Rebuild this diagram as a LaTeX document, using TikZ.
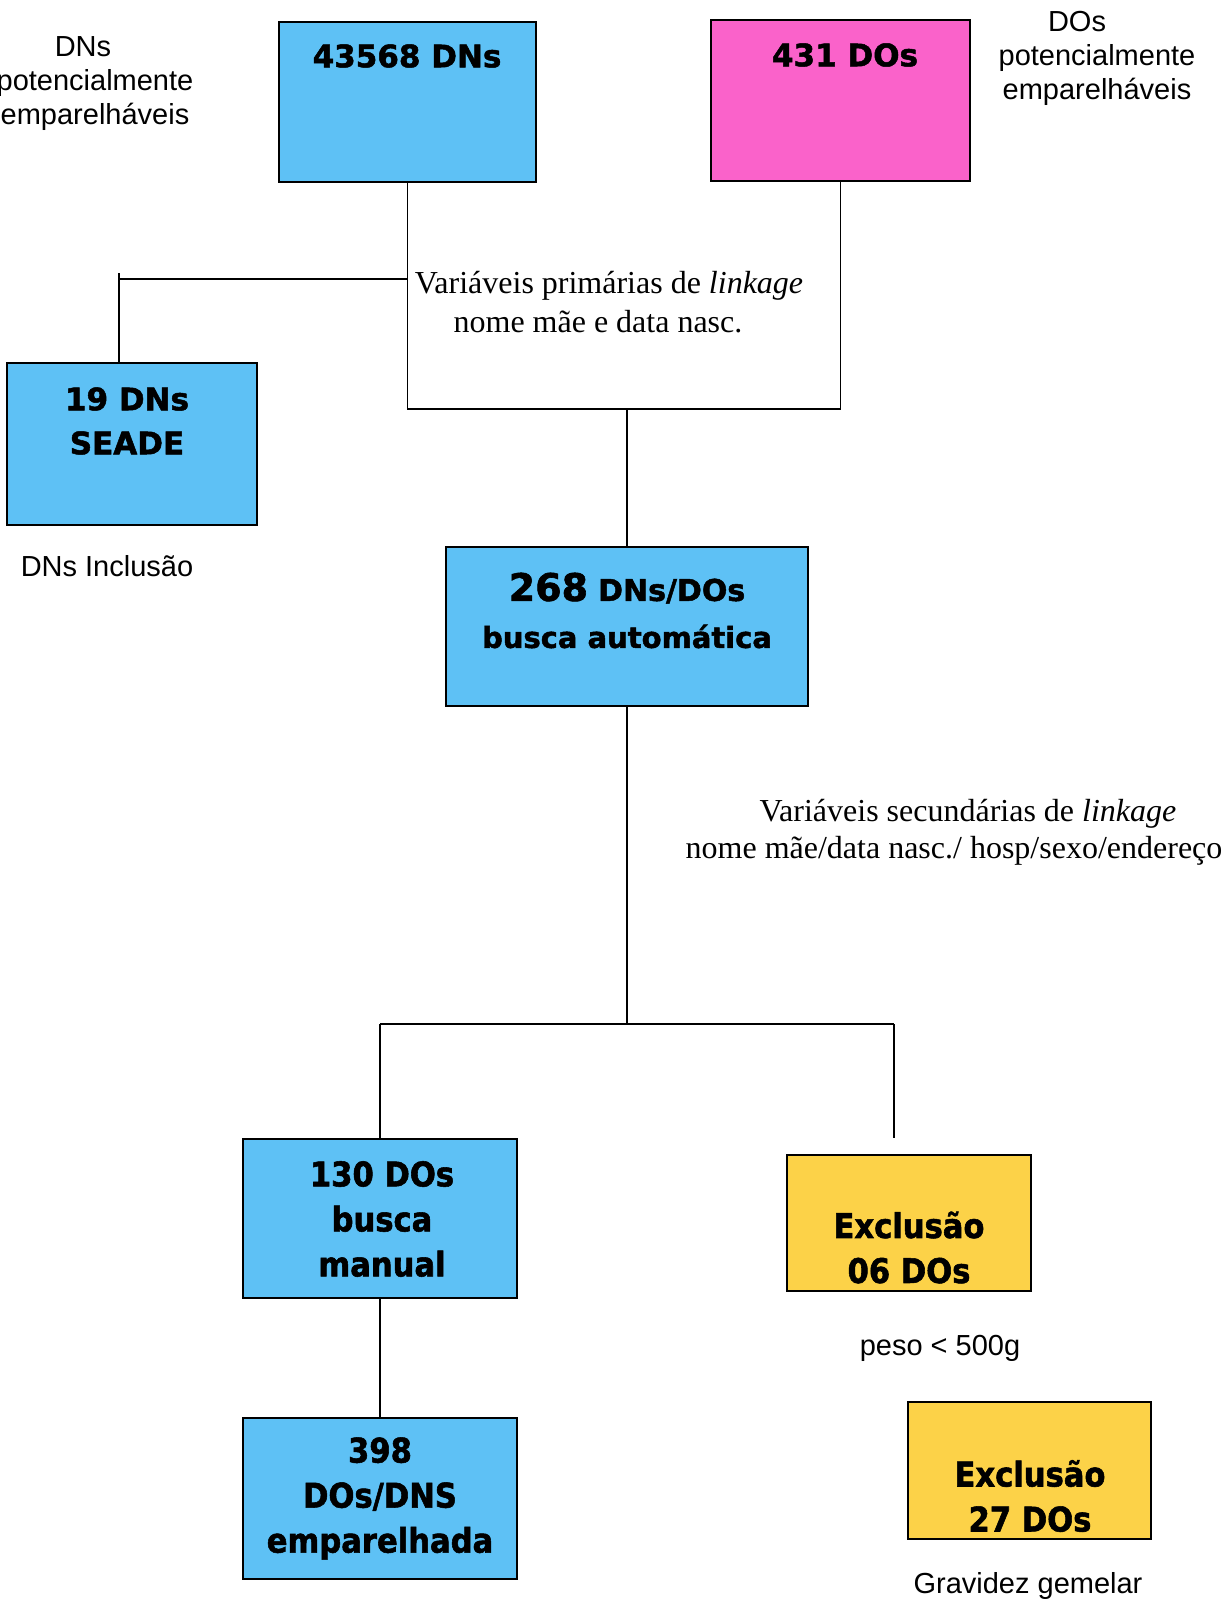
\documentclass[tikz,border=0pt]{standalone}
\usepackage{fontspec}
\setmainfont{Liberation Serif}
\newfontfamily\arial{Liberation Sans}
\newfontfamily\heavy{DejaVu Sans}[BoldFeatures={FakeBold=1.6}]
\newfontfamily\heavyc{DejaVu Sans}[FakeStretch=0.9,BoldFeatures={FakeBold=1.6}]
\definecolor{bluebox}{RGB}{94,193,245}
\definecolor{pinkbox}{RGB}{250,98,202}
\definecolor{yellowbox}{RGB}{252,210,72}
\tikzset{
  box/.style={draw=black, line width=1.5pt, rectangle, inner sep=0pt},
  conn/.style={draw=black, line width=1.3pt},
  bigtxt/.style={inner sep=0pt, align=center, font=\heavy\bfseries\fontsize{31}{44}\selectfont},
  condtxt/.style={inner sep=0pt, align=center, font=\heavyc\bfseries\fontsize{34}{45}\selectfont},
  sidetxt/.style={inner sep=0pt, align=center, font=\arial\fontsize{29}{34}\selectfont},
  sertxt/.style={inner sep=0pt, align=center, font=\fontsize{32}{38}\selectfont}
}
\begin{document}
\begin{tikzpicture}[x=1pt,y=-1pt]
\useasboundingbox (0,0) rectangle (1227,1601);
% boxes
\node[box, fill=bluebox, minimum width=257pt, minimum height=160pt] (dn) at (407.5,102) {};
\node[box, fill=pinkbox, minimum width=259pt, minimum height=161pt] (do) at (840.5,100.5) {};
\node[box, fill=bluebox, minimum width=250pt, minimum height=162pt] (seade) at (132,444) {};
\node[box, fill=bluebox, minimum width=362pt, minimum height=159pt] (auto) at (627,626.5) {};
\node[box, fill=bluebox, minimum width=274pt, minimum height=159pt] (man) at (380,1218.5) {};
\node[box, fill=yellowbox, minimum width=244pt, minimum height=136pt] (ex1) at (909,1223) {};
\node[box, fill=bluebox, minimum width=274pt, minimum height=161pt] (emp) at (380,1498.5) {};
\node[box, fill=yellowbox, minimum width=243pt, minimum height=137pt] (ex2) at (1029.5,1470.5) {};
% box texts
\node[bigtxt] (tdn) at (407,56) {43568 DNs};
\node[bigtxt] (tdo) at (845,55) {431 DOs};
\node[bigtxt] (tseade) at (127,421) {19 DNs\\SEADE};
\node[bigtxt, font=\heavy\bfseries\fontsize{29}{47}\selectfont] (tauto) at (627,610.5) {{\fontsize{38}{47}\selectfont 268} {\fontsize{30}{47}\selectfont DNs/DOs}\\busca automática};
\node[condtxt] (tman) at (382,1219) {130 DOs\\busca\\manual};
\node[condtxt] (tex1) at (909,1247.5) {Exclusão\\06 DOs};
\node[condtxt] (temp) at (380,1498.5) {398\\DOs/DNS\\emparelhada};
\node[condtxt] (tex2) at (1030,1496) {Exclusão\\27 DOs};
% side texts
\node[sidetxt] (ldn) at (95,84) {DNs\hspace*{24pt}\\potencialmente\\emparelháveis};
\node[sidetxt] (ldo) at (1097,58) {DOs\hspace*{40pt}\\potencialmente\\emparelháveis};
\node[sidetxt] (linc) at (107,566) {DNs Inclusão};
\node[sidetxt] (lpeso) at (940,1348) {peso < 500g};
\node[sidetxt] (lgem) at (1028,1586) {Gravidez gemelar};
\node[sertxt, font=\fontsize{32}{39}\selectfont] (lprim) at (609,302) {Variáveis primárias de \textit{linkage}\\nome mãe e data nasc.\hspace*{22pt}};
\node[sertxt, font=\fontsize{32}{37}\selectfont] (lsec) at (968,832) {Variáveis secundárias de \textit{linkage}\\nome mãe/data nasc./ hosp/sexo/endereço\hspace*{28pt}};
% connectors
\coordinate (pj) at (0,409);
\draw[conn] (dn.south) -- (dn.south |- pj) -- (do.south |- pj) -- (do.south);
\draw[conn] (auto.north) -- (auto.north |- pj);
\coordinate (lb) at (119,279);
\coordinate (lbt) at (119,273);
\draw[conn] (dn.south |- lb) -- (lb);
\draw[conn] (lbt) -- (lbt |- seade.north);
\coordinate (bj) at (0,1024);
\coordinate (exend) at (894,1138);
\draw[conn] (auto.south) -- (auto.south |- bj);
\draw[conn] (man.north |- bj) -- (exend |- bj);
\draw[conn] (man.north |- bj) -- (man.north);
\draw[conn] (exend |- bj) -- (exend);
\draw[conn] (man.south) -- (emp.north);
\end{tikzpicture}
\end{document}
